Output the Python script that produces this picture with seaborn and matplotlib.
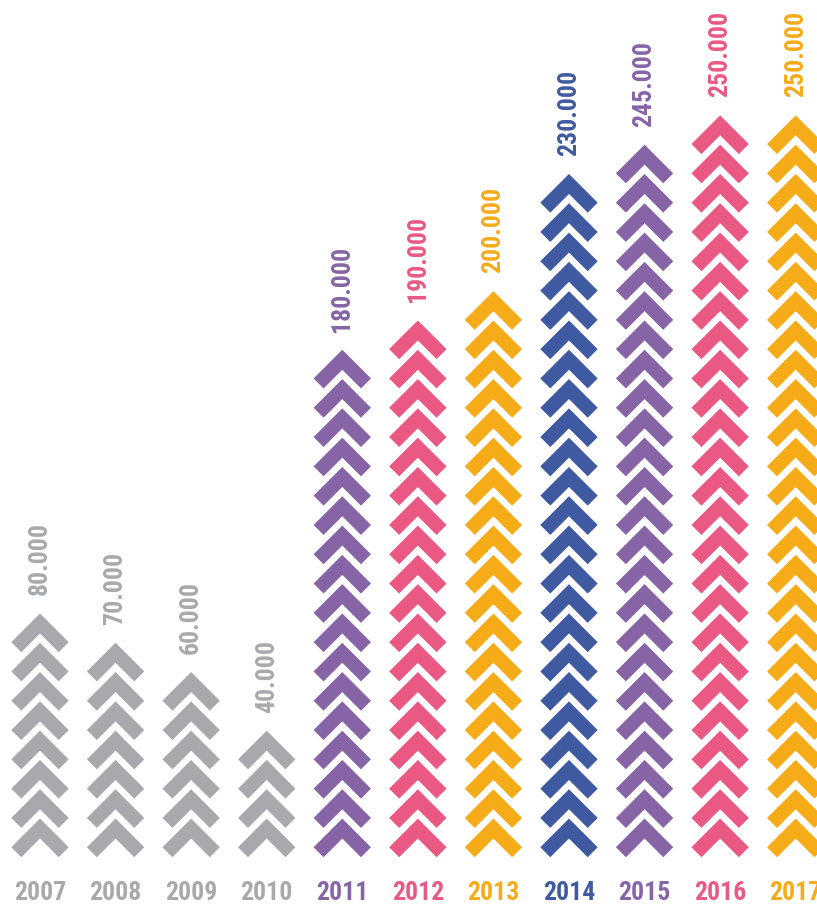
import numpy as np
import pandas as pd
import matplotlib
matplotlib.use("Agg")
import matplotlib.pyplot as plt
from matplotlib.path import Path
import seaborn as sns

years = ['2007', '2008', '2009', '2010', '2011', '2012', '2013', '2014', '2015', '2016', '2017']
values = [80000, 70000, 60000, 40000, 180000, 190000, 200000, 230000, 245000, 250000, 250000]
chevron_counts = [8, 7, 6, 4, 17, 18, 19, 23, 24, 25, 25]
year_colors = ['#a7a9ac', '#a7a9ac', '#a7a9ac', '#a7a9ac', '#8664a6', '#e95983',
               '#f6ab19', '#405aa2', '#8664a6', '#e95983', '#f6ab19']

sns.set_theme(style="white")
FONT = ['Roboto Condensed', 'Roboto', 'DejaVu Sans']
plt.rcParams['font.family'] = FONT

# chevron marker geometry (pixels), centred on its own box
w = 28.7   # half width
t = 20.0   # vertical arm thickness
h = w + t / 2
c = h / 2
verts = [(0, c), (w, c - w), (w - t / 2, c - h), (0, c - t),
         (-(w - t / 2), c - h), (-w, c - w), (0, c)]
chevron = Path(verts, [Path.MOVETO] + [Path.LINETO] * 5 + [Path.CLOSEPOLY])

rows = []
for i, (yr, n) in enumerate(zip(years, chevron_counts)):
    for k in range(n):
        rows.append({'year': yr, 'pos': i, 'level': k})
df = pd.DataFrame(rows)

W, H = 817, 906
fig = plt.figure(figsize=(W / 100, H / 100), dpi=100)
ax = fig.add_axes([0, 0, 1, 1])

palette = dict(zip(years, year_colors))
sns.scatterplot(data=df, x='pos', y='level', hue='year', palette=palette,
                marker=chevron, s=(2 * w * 72 / 100) ** 2, linewidth=0,
                edgecolor='none', legend=False, ax=ax)

x0, dx = 40.0, 75.57
pitch = 29.3
y_base = 837.9
ax.set_xlim(-x0 / dx, (W - x0) / dx)
ax.set_ylim((y_base - H) / pitch, y_base / pitch)
ax.set_axis_off()

for i, (yr, v, n, col) in enumerate(zip(years, values, chevron_counts, year_colors)):
    label = f"{v:,}".replace(",", ".")
    ax.text(i, n - 1 + (c + 18) / pitch, label, rotation=90, ha='center', va='bottom',
            color=col, fontsize=18.5, fontweight='bold', family=FONT)
    ax.text(i, (y_base - 900.5) / pitch, yr, ha='center', va='baseline',
            color=col, fontsize=18.5, fontweight='bold', family=FONT)

fig.savefig('out.png', dpi=100)
